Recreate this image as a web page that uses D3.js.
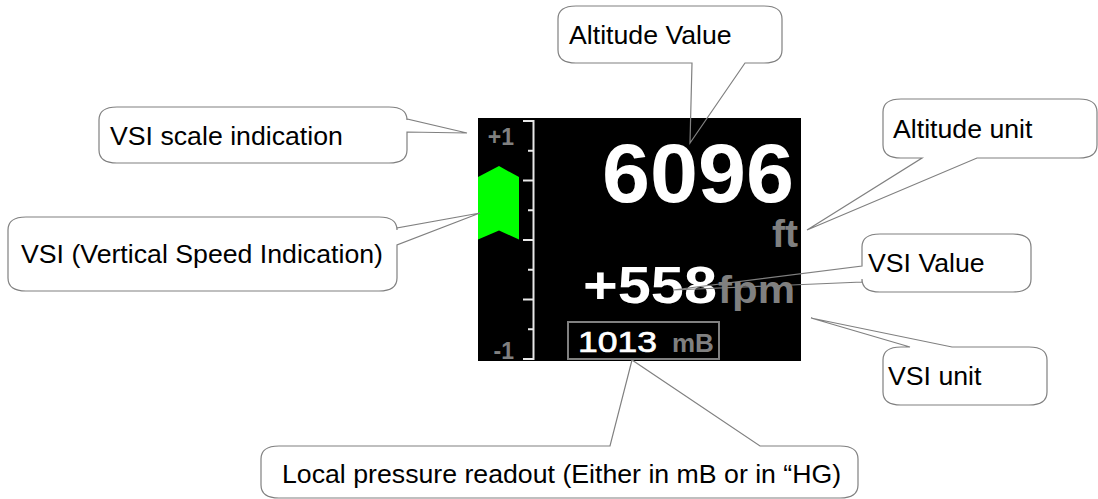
<!DOCTYPE html>
<html>
<head>
<meta charset="utf-8">
<script src="https://cdn.jsdelivr.net/npm/d3@7"></script>
<style>
body { margin: 0; background: #fff; }
svg { display: block; }
</style>
</head>
<body>
<svg id="chart"></svg>
<script>
// values shown on the display
const altitude = [6096]
const altitudeUnit = ["ft"]
const vsiValue = [558]
const vsiUnit = ["fpm"]
const pressure = [1013]
const pressureUnit = ["mB"]

// vsi scale (fpm), +1 / -1 = +-1000 fpm
const vsiDomain = [-1000, 1000]
const vsiTickValues = [-750, -500, -250, 0, 250, 500, 750]
const vsiMajorTicks = [-500, 0, 500]
const vsiScaleLabels = ["+1", "-1"]

// callout texts
const calloutLabels = [
  "Altitude Value",
  "VSI scale indication",
  "Altitude unit",
  "VSI (Vertical Speed Indication)",
  "VSI Value",
  "VSI unit",
  "Local pressure readout (Either in mB or in \u201cHG)"
]

const W = 1098, H = 499

const svg = d3.select("svg#chart")
              .attr("width", W)
              .attr("height", H)

//black display
svg.append("rect")
   .attr("x", 478)
   .attr("y", 118)
   .attr("width", 323)
   .attr("height", 243)
   .attr("fill", "black")

//vsi scale
const y = d3.scaleLinear()
            .domain(vsiDomain)
            .range([358.5, 120.5])

//green chevron bar, from 0 up to the value
const x0 = 478, x1 = 519, xm = 499
const yv = y(vsiValue[0]), yz = y(0)
svg.append("path")
   .attr("d", `M${x0},${yv + 4} L${xm},${yv - 7} L${x1},${yv + 4} L${x1},${yz} L${xm},${yz - 9} L${x0},${yz} Z`)
   .attr("fill", "#00ff00")

const axis = d3.axisLeft(y)
               .tickValues(vsiTickValues)
               .tickSizeInner(5)
               .tickSizeOuter(10)
               .tickFormat("")

const gAxis = svg.append("g")
   .attr("transform", "translate(533,0)")
   .call(axis)

gAxis.select(".domain")
     .attr("stroke", "#e8e8e8")
     .attr("stroke-width", 2)
     .attr("fill", "none")

gAxis.selectAll(".tick line")
     .attr("stroke", "#e8e8e8")
     .attr("stroke-width", 2)
     .attr("x2", d => vsiMajorTicks.includes(d) ? -10 : -5)

//+1 / -1 labels
svg.selectAll("text.scale")
   .data(vsiScaleLabels)
   .enter()
   .append("text")
   .attr("class", "scale")
   .attr("x", 514)
   .attr("y", (d, i) => i == 0 ? y(vsiDomain[1]) + 24 : y(vsiDomain[0]))
   .attr("text-anchor", "end")
   .attr("font-family", "Liberation Sans, Arial, sans-serif")
   .attr("font-weight", "bold")
   .attr("font-size", 23)
   .attr("fill", "#808080")
   .text(d => d)

//altitude value
svg.append("text")
   .attr("x", 602)
   .attr("y", 202)
   .attr("font-family", "Liberation Sans, Arial, sans-serif")
   .attr("font-weight", "bold")
   .attr("font-size", 84)
   .attr("textLength", 192)
   .attr("lengthAdjust", "spacingAndGlyphs")
   .attr("fill", "white")
   .text(altitude[0])

//altitude unit
svg.append("text")
   .attr("x", 798)
   .attr("y", 247)
   .attr("text-anchor", "end")
   .attr("font-family", "Liberation Sans, Arial, sans-serif")
   .attr("font-weight", "bold")
   .attr("font-size", 39)
   .attr("fill", "#808080")
   .text(altitudeUnit[0])

//vsi value
svg.append("text")
   .attr("x", 583)
   .attr("y", 303)
   .attr("font-family", "Liberation Sans, Arial, sans-serif")
   .attr("font-weight", "bold")
   .attr("font-size", 51)
   .attr("textLength", 134)
   .attr("lengthAdjust", "spacingAndGlyphs")
   .attr("fill", "white")
   .text("+" + vsiValue[0])

//vsi unit
svg.append("text")
   .attr("x", 718)
   .attr("y", 303)
   .attr("font-family", "Liberation Sans, Arial, sans-serif")
   .attr("font-weight", "bold")
   .attr("font-size", 38)
   .attr("textLength", 77)
   .attr("lengthAdjust", "spacingAndGlyphs")
   .attr("fill", "#808080")
   .text(vsiUnit[0])

//pressure box
svg.append("rect")
   .attr("x", 568)
   .attr("y", 322)
   .attr("width", 151)
   .attr("height", 37)
   .attr("fill", "none")
   .attr("stroke", "#808080")
   .attr("stroke-width", 2)

svg.append("text")
   .attr("x", 578)
   .attr("y", 352)
   .attr("font-family", "Liberation Sans, Arial, sans-serif")
   .attr("font-size", 30)
   .attr("textLength", 79)
   .attr("lengthAdjust", "spacingAndGlyphs")
   .attr("fill", "white")
   .attr("stroke", "white")
   .attr("stroke-width", 0.7)
   .text(pressure[0])

svg.append("text")
   .attr("x", 672)
   .attr("y", 352)
   .attr("font-family", "Liberation Sans, Arial, sans-serif")
   .attr("font-weight", "bold")
   .attr("font-size", 26)
   .attr("fill", "#808080")
   .text(pressureUnit[0])

//callout layout: box, which side the pointer leaves from, pointer base and tip
const calloutLayout = [
  {box: [558, 6, 782, 63],    side: "bottom", base: [692, 745], tip: [690, 143], tx: 569, ty: 44},
  {box: [99, 107, 407, 163],  side: "right",  base: [119, 132], tip: [467, 133], tx: 110, ty: 145},
  {box: [883, 99, 1097, 158], side: "bottom", base: [922, 977], tip: [807, 230], tx: 893, ty: 138},
  {box: [8, 217, 397, 291],   side: "right",  base: [228, 245], tip: [480, 213], tx: 21,  ty: 263},
  {box: [862, 234, 1031, 292],side: "left",   base: [266, 282], tip: [673, 290], tx: 868, ty: 272},
  {box: [883, 347, 1047, 405],side: "top",    base: [910, 952], tip: [811, 318], tx: 888, ty: 385},
  {box: [261, 446, 858, 498], side: "top",    base: [610, 760], tip: [632, 360], tx: 282, ty: 483}
]

function bubblePath(c) {
    const [bx0, by0, bx1, by1] = c.box
    const rx = 18, ry = 13
    const [a, b] = c.base
    const [tx, ty] = c.tip
    const p = d3.path()
    p.moveTo(bx0 + rx, by0)
    if (c.side == "top") { p.lineTo(a, by0); p.lineTo(tx, ty); p.lineTo(b, by0) }
    p.lineTo(bx1 - rx, by0)
    p.bezierCurveTo(bx1 - rx / 3, by0, bx1, by0 + ry / 3, bx1, by0 + ry)
    if (c.side == "right") { p.lineTo(bx1, a); p.lineTo(tx, ty); p.lineTo(bx1, b) }
    p.lineTo(bx1, by1 - ry)
    p.bezierCurveTo(bx1, by1 - ry / 3, bx1 - rx / 3, by1, bx1 - rx, by1)
    if (c.side == "bottom") { p.lineTo(b, by1); p.lineTo(tx, ty); p.lineTo(a, by1) }
    p.lineTo(bx0 + rx, by1)
    p.bezierCurveTo(bx0 + rx / 3, by1, bx0, by1 - ry / 3, bx0, by1 - ry)
    if (c.side == "left") { p.lineTo(bx0, b); p.lineTo(tx, ty); p.lineTo(bx0, a) }
    p.lineTo(bx0, by0 + ry)
    p.bezierCurveTo(bx0, by0 + ry / 3, bx0 + rx / 3, by0, bx0 + rx, by0)
    p.closePath()
    return p.toString()
}

const callouts = calloutLabels.map((label, i) => Object.assign({label: label}, calloutLayout[i]))

const g = svg.selectAll("g.callout")
             .data(callouts)
             .enter()
             .append("g")
             .attr("class", "callout")

g.append("path")
 .attr("d", d => bubblePath(d))
 .attr("fill", "none")
 .attr("stroke", "#808080")
 .attr("stroke-width", 1.2)

g.append("text")
 .attr("x", d => d.tx)
 .attr("y", d => d.ty)
 .attr("font-family", "Liberation Sans, Arial, sans-serif")
 .attr("font-size", 26.7)
 .attr("fill", "black")
 .text(d => d.label)
</script>
</body>
</html>
